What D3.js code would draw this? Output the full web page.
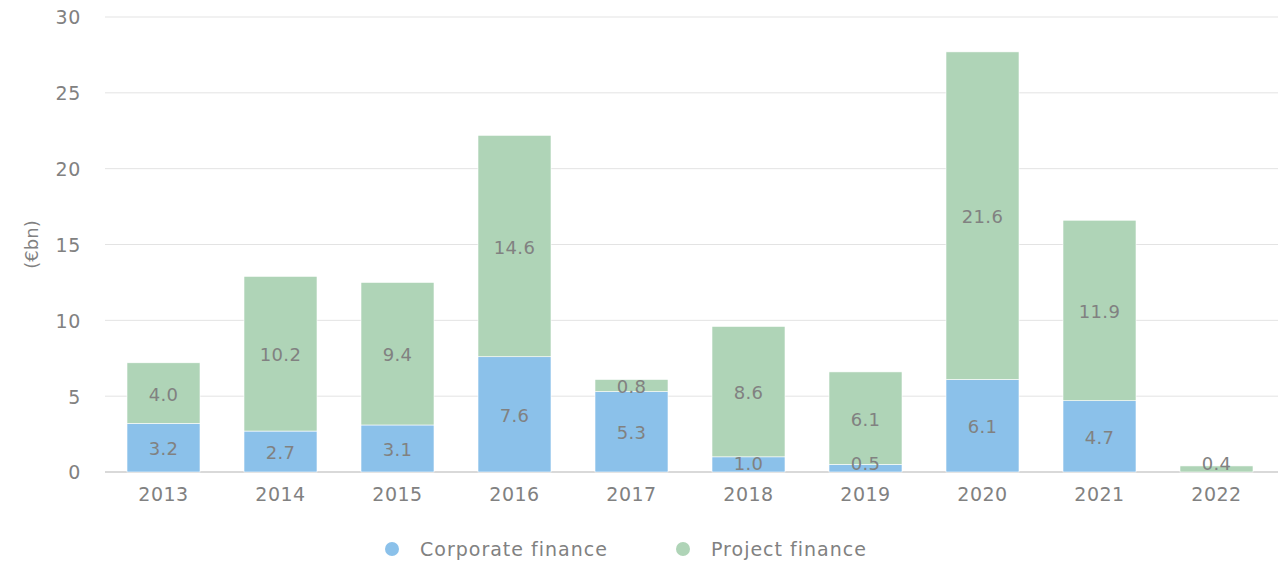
<!DOCTYPE html>
<html><head><meta charset="utf-8">
<script src="https://cdn.jsdelivr.net/npm/d3@7"></script>
<style>body{margin:0;background:#fff}svg{display:block}</style>
</head><body>
<svg id="c" width="1278" height="561"></svg>
<script>
const years = ["2013","2014","2015","2016","2017","2018","2019","2020","2021","2022"];
const corporate = [3.2,2.7,3.1,7.6,5.3,1.0,0.5,6.1,4.7,0];
const project = [4.0,10.2,9.4,14.6,0.8,8.6,6.1,21.6,11.9,0.4];
const yTicks = [0,5,10,15,20,25,30];
const seriesNames = ["Corporate finance","Project finance"];
const colors = ["#8BC1EA","#AFD4B7"];

(function(){
const font = "DejaVu Sans, sans-serif";
const textCol = "#818181";
const svg = d3.select("#c");
const mLeft = 105, mRight = 1275, mTop = 17, mBottom = 472;
const x = d3.scaleBand().domain(years).range([mLeft, mRight]).paddingInner(0.376).paddingOuter(0.188);
const y = d3.scaleLinear().domain([0,30]).range([mBottom, mTop]);

svg.append("g").selectAll("line").data(yTicks).join("line")
  .attr("x1", mLeft).attr("x2", 1278)
  .attr("y1", d => y(d)).attr("y2", d => y(d))
  .attr("stroke", d => d===0 ? "#d9d9d9" : "#e3e3e3")
  .attr("stroke-width", d => d===0 ? 2 : 1);

const ya = svg.append("g").attr("transform", `translate(81,0)`)
  .call(d3.axisLeft(y).tickValues(yTicks).tickSize(0).tickPadding(0));
ya.select(".domain").remove();
ya.selectAll("text").attr("fill", textCol).style("font-family", font).style("font-size","19px")
  .style("letter-spacing","0.6px").attr("dy","0.36em");

const xa = svg.append("g").attr("transform", `translate(0,${mBottom})`)
  .call(d3.axisBottom(x).tickSize(0).tickPadding(16));
xa.select(".domain").remove();
xa.selectAll("text").attr("fill", textCol).style("font-family", font).style("font-size","19px")
  .style("letter-spacing","0.5px");

const data = years.map((yr,i) => ({year: yr, c: corporate[i], p: project[i]}));
const stack = d3.stack().keys(["c","p"])(data);
const g = svg.append("g");
stack.forEach((s, si) => {
  g.selectAll(null).data(s).join("rect")
    .attr("x", d => x(d.data.year)).attr("width", x.bandwidth())
    .attr("y", d => y(d[1])).attr("height", d => y(d[0]) - y(d[1]))
    .attr("fill", colors[si]).attr("stroke","#fff").attr("stroke-width",0.6);
});
stack.forEach((s, si) => {
  g.selectAll(null).data(s.filter(d => d[1]-d[0] > 0)).join("text")
    .attr("x", d => x(d.data.year) + x.bandwidth()/2)
    .attr("y", d => Math.min(y((d[0]+d[1])/2), mBottom - 10))
    .attr("dy","0.42em").attr("text-anchor","middle")
    .attr("fill", textCol).style("font-family", font).style("font-size","18px")
    .style("letter-spacing","0.3px")
    .text(d => d3.format(".1f")(d[1]-d[0]));
});

svg.append("text").attr("transform", `translate(32,${y(15)}) rotate(-90)`)
  .attr("text-anchor","middle").attr("dy","0.35em")
  .attr("fill", textCol).style("font-family", font).style("font-size","18px").text("(€bn)");

const lg = svg.append("g");
const lx = [392, 683];
seriesNames.forEach((n,i) => {
  lg.append("circle").attr("cx", lx[i]).attr("cy", 549).attr("r", 7).attr("fill", colors[i]);
  lg.append("text").attr("x", lx[i]+28).attr("y", 549).attr("dy","0.35em")
    .attr("fill", textCol).style("font-family", font).style("font-size","19px")
    .style("letter-spacing","1px").text(n);
});
})();
</script>
</body></html>
